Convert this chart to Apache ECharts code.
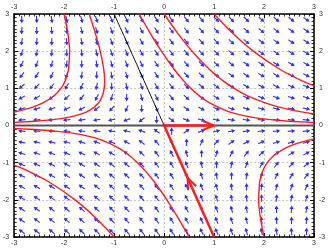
<!DOCTYPE html>
<html>
<head>
<meta charset="utf-8">
<script src="https://cdn.jsdelivr.net/npm/echarts@6/dist/echarts.min.js"></script>
<style>html,body{margin:0;padding:0;background:#fff;}#c{width:330px;height:252px;}</style>
</head>
<body>
<div id="c"></div>
<script>
// ---- data ----
const axisTicks = [-3, -2, -1, 0, 1, 2, 3];
// linear system  x' = a x + b y ,  y' = c x + d y
const fieldMatrix = [[1, 1], [0, -2]];
const arrowXs = [-2.85, -2.55, -2.25, -1.95, -1.65, -1.35, -1.05, -0.75, -0.45, -0.15,
                 0.15, 0.45, 0.75, 1.05, 1.35, 1.65, 1.95, 2.25, 2.55, 2.85];
const arrowYs = [-2.85, -2.55, -2.25, -1.95, -1.65, -1.35, -1.05, -0.75, -0.45, -0.15,
                 0.15, 0.45, 0.75, 1.05, 1.35, 1.65, 1.95, 2.25, 2.55, 2.85];

const trajUpper1 = [[-2.0,3],[-1.929,2.5],[-1.891,2],[-1.9,1.75],[-1.914,1.5],[-1.981,1.2],[-2.065,1],[-2.203,0.8],[-2.436,0.6],[-2.616,0.5],[-2.872,0.4],[-3.0,0.36]];
const trajUpper2 = [[-1.5,3],[-1.381,2.5],[-1.279,2],[-1.207,1.5],[-1.191,1.2],[-1.199,1],[-1.235,0.8],[-1.318,0.6],[-1.502,0.4],[-1.681,0.3],[-2.003,0.2],[-2.286,0.15],[-2.54,0.12],[-2.772,0.1],[-3.0,0.085]];
const trajUpper3 = [[-0.5,3],[-0.285,2.5],[-0.055,2],[0.207,1.5],[0.391,1.2],[0.533,1],[0.701,0.8],[0.918,0.6],[1.236,0.4],[1.481,0.3],[1.869,0.2],[2.186,0.15],[2.46,0.12],[2.706,0.1],[3.0,0.082]];
const trajUpper4 = [[0,3],[0.262,2.5],[0.558,2],[0.914,1.5],[1.181,1.2],[1.399,1],[1.67,0.8],[2.036,0.6],[2.283,0.5],[2.605,0.4],[3.0,0.31]];
const trajUpper5 = [[1,3],[1.357,2.5],[1.783,2],[2.328,1.5],[2.762,1.2],[3.0,1.065]];
const trajLower1 = [[0.5,-3],[0.285,-2.5],[0.055,-2],[-0.207,-1.5],[-0.391,-1.2],[-0.533,-1],[-0.701,-0.8],[-0.918,-0.6],[-1.236,-0.4],[-1.481,-0.3],[-1.869,-0.2],[-2.186,-0.15],[-2.46,-0.12],[-2.706,-0.1],[-3.0,-0.082]];
const trajLower2 = [[-1,-3],[-1.357,-2.5],[-1.783,-2],[-2.328,-1.5],[-2.762,-1.2],[-3.0,-1.065]];
const trajLower3 = [[2,-3],[1.929,-2.5],[1.891,-2],[1.9,-1.75],[1.914,-1.5],[1.981,-1.2],[2.065,-1],[2.203,-0.8],[2.436,-0.6],[2.616,-0.5],[2.872,-0.4],[3.0,-0.36]];
const stableLineBlack = [[-1,3],[0,0]];
const stableLineRed = [[0,0],[1,-3]];
const unstableLineRed = [[0,0],[1,0]];
const zeroLine = [[-3,0],[3,0]];
// arrowheads on the manifolds: tip x, tip y, direction x, direction y
const manifoldHeads = [[1,0,1,0],[0.47,-1.41,-1,3]];

// ---- build ----
const fieldData = [];
arrowXs.forEach(x => arrowYs.forEach(y => {
  fieldData.push([x, y,
    fieldMatrix[0][0]*x + fieldMatrix[0][1]*y,
    fieldMatrix[1][0]*x + fieldMatrix[1][1]*y]);
}));

const ARROW = '#3030f4';
const RED = '#ff1c1c';
function screenDir(api, x, y, dx, dy){
  const p = api.coord([x, y]);
  const q = api.coord([x + dx*0.001, y + dy*0.001]);
  let vx = q[0]-p[0], vy = q[1]-p[1];
  const n = Math.hypot(vx, vy) || 1;
  return [p, vx/n, vy/n];
}
function renderArrow(params, api){
  const [p, vx, vy] = screenDir(api, api.value(0), api.value(1), api.value(2), api.value(3));
  const L = 7.5, H = 3.6, W = 2.1;
  const tail = [p[0]-vx*L/2, p[1]-vy*L/2];
  const tip = [p[0]+vx*L/2, p[1]+vy*L/2];
  const base = [tip[0]-vx*H, tip[1]-vy*H];
  const nx = -vy, ny = vx;
  return {type:'group', children:[
    {type:'line', shape:{x1:tail[0],y1:tail[1],x2:base[0]+vx*0.5,y2:base[1]+vy*0.5}, style:{stroke:ARROW,lineWidth:1.1}},
    {type:'polygon', shape:{points:[tip,[base[0]+nx*W,base[1]+ny*W],[base[0]-nx*W,base[1]-ny*W]]}, style:{fill:ARROW}}
  ]};
}
function renderHead(params, api){
  const [p, vx, vy] = screenDir(api, api.value(0), api.value(1), api.value(2), api.value(3));
  const A = 12, S = 0.38;
  const c = Math.cos(S), s = Math.sin(S);
  const bx = -vx, by = -vy;
  const a1 = [p[0] + A*(bx*c - by*s), p[1] + A*(bx*s + by*c)];
  const a2 = [p[0] + A*(bx*c + by*s), p[1] + A*(-bx*s + by*c)];
  return {type:'polyline', shape:{points:[a1, p, a2]}, style:{stroke:RED, lineWidth:2, fill:null}};
}

const labelFmt = v => String(v);
function xAx(pos, split){
  return {type:'value', position:pos, min:-3, max:3, interval:1,
    axisLine:{show:true, onZero:false, lineStyle:{color:'#000', width:1.5}},
    axisTick:{show:true, inside:true, length:4, lineStyle:{color:'#000', width:1}},
    minorTick:{show:true, splitNumber:10, length:2.5, lineStyle:{color:'#000', width:0.8}},
    splitLine:{show:split, lineStyle:{color:'#c4c4c4', type:[2,2], width:1}},
    axisLabel:{fontSize:7, color:'#333', margin:3, fontFamily:'Liberation Sans', formatter:labelFmt}};
}
function yAx(pos, split){
  const a = xAx(pos, split);
  a.axisLabel.margin = 5;
  return a;
}
function lineS(data, color, width, z){
  return {type:'line', data:data, xAxisIndex:0, yAxisIndex:0, symbol:'none', smooth:0.25,
    lineStyle:{color:color, width:width}, z:z, silent:true, animation:false, clip:true};
}

const chart = echarts.init(document.getElementById('c'), null, {renderer:'canvas'});
chart.setOption({
  animation:false,
  backgroundColor:'#fff',
  grid:{left:13, right:16, top:14, bottom:15},
  xAxis:[xAx('bottom', true), xAx('top', false)],
  yAxis:[yAx('left', true), yAx('right', false)],
  series:[
    lineS(zeroLine, '#555', 2, 2),
    {type:'custom', xAxisIndex:0, yAxisIndex:0, data:fieldData, renderItem:renderArrow, encode:{x:0, y:1}, z:3, silent:true, animation:false},
    lineS(stableLineBlack, '#111', 1, 4),
    lineS(trajUpper1, RED, 1.4, 5),
    lineS(trajUpper2, RED, 1.4, 5),
    lineS(trajUpper3, RED, 1.4, 5),
    lineS(trajUpper4, RED, 1.4, 5),
    lineS(trajUpper5, RED, 1.4, 5),
    lineS(trajLower1, RED, 1.4, 5),
    lineS(trajLower2, RED, 1.4, 5),
    lineS(trajLower3, RED, 1.4, 5),
    lineS(stableLineRed, RED, 2.5, 6),
    lineS(unstableLineRed, RED, 2.5, 6),
    {type:'custom', xAxisIndex:0, yAxisIndex:0, data:manifoldHeads, renderItem:renderHead, encode:{x:0, y:1}, z:7, silent:true, animation:false}
  ]
});
</script>
</body>
</html>
